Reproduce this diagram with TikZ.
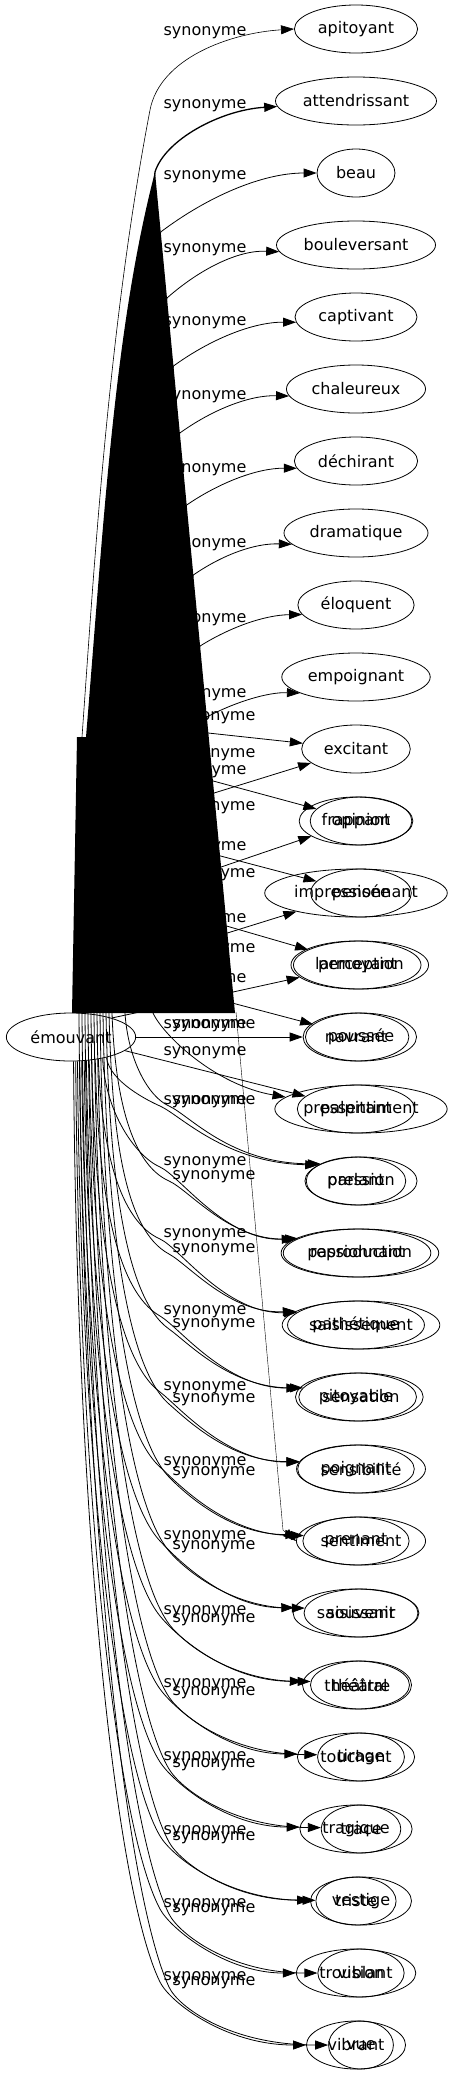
\documentclass[tikz,border=0pt]{standalone}
\usepackage{fontspec}
\setmainfont{DejaVu Sans}
\usetikzlibrary{arrows.meta,shapes.geometric}
\tikzset{
  ell/.style={draw, ellipse, inner sep=0pt, minimum height=48pt, line width=0.8pt},
  lbl/.style={inner sep=0pt},
  conn/.style={line width=0.8pt, -{Triangle[length=13pt,width=9pt]}},
  connthick/.style={conn, line width=1.3pt},
  connthin/.style={conn, line width=0.4pt},
  blob/.style={fill=black},
}
\newcommand\wnode[4]{%
  \pgfmathwidth{"#4"}\edef\mytw{\pgfmathresult}%
  \node[ell, minimum width={1.25*\mytw+28}] (#1) at (#2,-#3) {#4};%
}
\begin{document}
\begin{tikzpicture}[x=1pt,y=1pt]
\fontsize{16}{19}\selectfont
\useasboundingbox (0,0) rectangle (455,-2075);

% ---------- nodes ----------
\wnode{src}{71}{1037}{émouvant}
\foreach \vr/\vw in {0/apitoyant,1/attendrissant,2/beau,3/bouleversant,4/captivant,5/chaleureux,6/déchirant,7/dramatique,8/éloquent,9/empoignant,10/excitant,11/frappant,12/impressionnant,13/larmoyant,14/navrant,15/palpitant,16/parlant,17/passionnant,18/pathétique,19/pitoyable,20/poignant,21/prenant,22/saisissant,23/théâtral,24/touchant,25/tragique,26/triste,27/troublant,28/vibrant}{
  \pgfmathsetmacro\myyy{29+72*\vr}
  \wnode{a\vr}{356}{\myyy}{\vw}
}
\foreach \vr/\vw in {11/opinion,12/pensée,13/perception,14/poussée,15/pressentiment,16/pression,17/reproduction,18/saisissement,19/sensation,20/sensibilité,21/sentiment,22/souvenir,23/théâtre,24/tirage,25/trace,26/vestige,27/vision,28/vue}{
  \pgfmathsetmacro\myyy{29+72*\vr}
  \wnode{b\vr}{361}{\myyy}{\vw}
}

% ---------- labels ----------
\foreach \vr/\vL in {0/33,1/106,2/177,3/250,4/323,5/397,6/470,7/545,8/620,9/695,10/772,11/848,12/920,13/980,14/1026,15/1053,16/1102,17/1163,18/1235,19/1312,20/1388,21/1463,22/1537,23/1612,24/1685,25/1758,26/1832,27/1905,28/1978}{
  \node[lbl] (la\vr) at (205,-\vL) {synonyme};
}
\foreach \vr/\vL in {10/718,11/755,12/808,13/875,14/950,15/1026,16/1102,17/1177,18/1250,19/1325,20/1400,21/1473,22/1547,23/1620,24/1693,25/1765,26/1838,27/1910,28/1983}{
  \node[lbl] (lb\vr) at (214,-\vL) {synonyme};
}

% ---------- edges of the first group ----------
\draw[conn, line width=0.6pt] (src.72) -- (82,-737) .. controls (94,-570) and (108,-330) .. (150,-110) .. controls (160,-58) and (230,-33) .. (a0.west);
\draw[connthick] (src.80) -- (155,-172) .. controls (165,-140) and (220,-110) .. (a1.184);
\foreach \vr/\vey/\van/\vdy/\vtx in {2/232/180/0/317,3/298/185/5/276,4/366/185/5/295,5/433/186/6/286,6/505/187/7/295,7/575/190/10/286,8/646/190/10/299,9/717/196/15/301}{
  \pgfmathsetmacro\myex{155+0.09512*(\vey-172)}
  \pgfmathsetmacro\myty{29+72*\vr+\vdy}
  \pgfmathsetmacro\mycax{\myex+0.3*(\vtx-\myex)}
  \pgfmathsetmacro\mycay{-(\vey-0.6*(\vey-\myty))}
  \pgfmathsetmacro\mycbx{\vtx-0.35*(\vtx-\myex)}
  \draw[conn] (src.80) -- (\myex,-\vey) .. controls (\mycax,\mycay) and (\mycbx,-\myty) .. (a\vr.\van);
}
\foreach \vr/\vey in {10/793,11/867,12/933}{
  \pgfmathsetmacro\myex{155+0.09512*(\vey-172)}
  \draw[conn] (src.80) -- (\myex,-\vey) -- (a\vr);
}
\draw[conn] (src.25) -- (233,-992) -- (a13);
\draw[conn] (src.east) -- (a14.west);
\draw[conn] (src) -- (a15);
\foreach \vr/\vth/\vsx/\vsy/\vL/\van/\vdy in {16/-30/106.7/1057.6/1102/157/18,17/-34.5/102.4/1058.6/1163/167/12,18/-39/98.5/1059.3/1235/168/11,19/-43.5/95/1059.8/1312/171/9,20/-48/91.9/1060.2/1388/173/7,21/-52.5/89.1/1060.6/1463/174/6,22/-57/86.5/1060.8/1537/175/5,23/-61.5/84/1061/1612/176/4,24/-66/81.8/1061.2/1685/177/3,25/-70.5/79.6/1061.3/1758/178/2,26/-75/77.5/1061.4/1832/179/1,27/-79.5/75.5/1061.5/1905/180/0,28/-84/73.6/1061.5/1978/180/0}{
  \pgfmathsetmacro\mypy{\vL+4}
  \pgfmathsetmacro\mydd{\mypy-\vsy}
  \pgfmathsetmacro\mykk{min(1,\mydd/200)}
  \pgfmathsetmacro\mycax{\vsx+3}
  \pgfmathsetmacro\mycay{-(\vsy+0.5*\mydd)}
  \pgfmathsetmacro\mytvx{45*\mykk}
  \pgfmathsetmacro\mytvy{0.1*\mydd}
  \pgfmathsetmacro\mycbx{160-\mytvx}
  \pgfmathsetmacro\mycby{-(\mypy-\mytvy)}
  \pgfmathsetmacro\mytl{veclen(\mytvx,\mytvy)}
  \pgfmathsetmacro\myccx{160+22*\mytvx/\mytl}
  \pgfmathsetmacro\myccy{-(\mypy+22*\mytvy/\mytl)}
  \pgfmathsetmacro\mycdy{-(29+72*\vr-\vdy)}
  \draw[conn] (src.\vth) .. controls (\mycax,\mycay) and (\mycbx,\mycby) .. (160,-\mypy) .. controls (\myccx,\myccy) and (225,\mycdy) .. (a\vr.\van);
}

% ---------- edges of the second group ----------
\coordinate (hb10) at (148,-726.5);
\coordinate (hb11) at (143,-762);
\coordinate (hb12) at (175,-844);
\coordinate (hb13) at (180,-912.5);
\coordinate (hb14) at (183,-990);
\draw[conn] (hb10) -- (a10);
\draw[conn] (hb11) -- (b11);
\draw[conn] (hb12) -- (b12);
\draw[conn] (hb13) -- (b13);
\draw[conn] (hb14) -- (b14);
\coordinate (bs15) at (153,-1013);
\draw[conn] (bs15) .. controls (163,-1035) and (215,-1085) .. (b15.171);
\foreach \vr/\vbx/\vL/\van/\vdy in {16/125/1102/157/18,17/112/1177/167/12,18/109/1250/168/11,19/106/1325/171/9,20/103/1400/173/7,21/100/1473/174/6,22/97/1547/175/5,23/94/1620/176/4,24/91/1693/177/3,25/88/1765/178/2,26/85/1838/179/1,27/82/1910/180/0,28/79/1983/180/0}{
  \coordinate (bs\vr) at (\vbx,-1013);
  \pgfmathsetmacro\mypy{\vL+4}
  \pgfmathsetmacro\mydd{\mypy-1013}
  \pgfmathsetmacro\mykk{min(1,\mydd/200)}
  \pgfmathsetmacro\mycax{\vbx+3}
  \pgfmathsetmacro\mycay{-(1013+0.5*\mydd)}
  \pgfmathsetmacro\mytvx{45*\mykk}
  \pgfmathsetmacro\mytvy{0.1*\mydd}
  \pgfmathsetmacro\mycbx{169-\mytvx}
  \pgfmathsetmacro\mycby{-(\mypy-\mytvy)}
  \pgfmathsetmacro\mytl{veclen(\mytvx,\mytvy)}
  \pgfmathsetmacro\myccx{169+22*\mytvx/\mytl}
  \pgfmathsetmacro\myccy{-(\mypy+22*\mytvy/\mytl)}
  \pgfmathsetmacro\mycdy{-(29+72*\vr-\vdy)}
  \draw[conn] (bs\vr) .. controls (\mycax,\mycay) and (\mycbx,\mycby) .. (169,-\mypy) .. controls (\myccx,\myccy) and (230,\mycdy) .. (b\vr.\van);
}
\coordinate (bsx) at (236,-1012);
\draw[connthin] (bsx) -- (283,-1530) -- (b21.west);

% ---------- filled blob ----------
\path[blob] (72,-1013) -- (77,-737) -- (86,-737) .. controls (104,-520) and (114,-330) .. (155,-172) -- (235,-1013) -- cycle;
\end{tikzpicture}
\end{document}
